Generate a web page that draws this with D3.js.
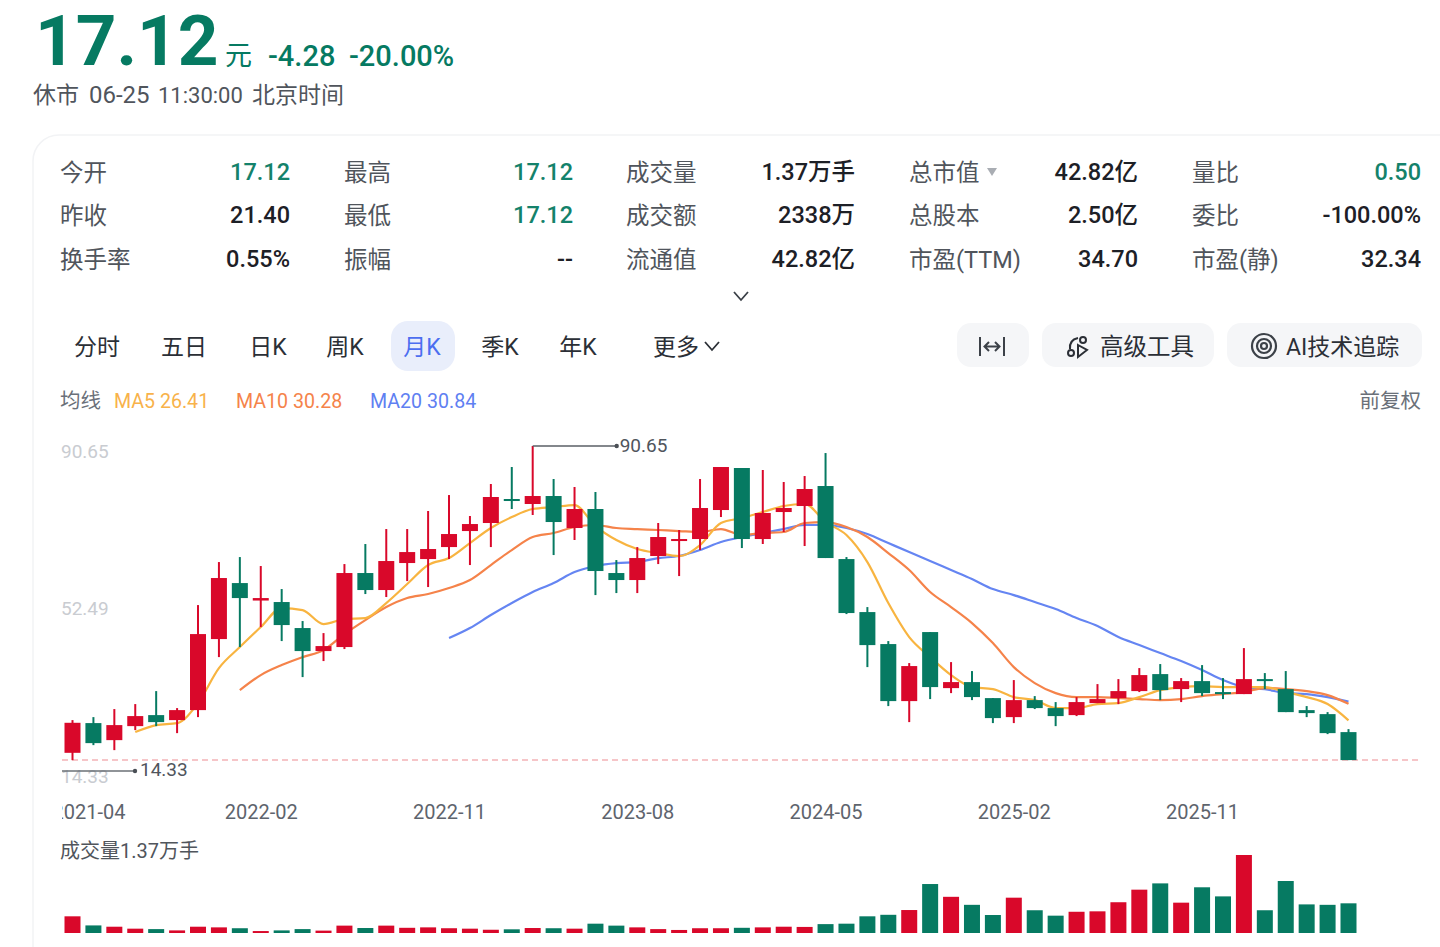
<!DOCTYPE html>
<html lang="zh-CN">
<head>
    <meta charset="UTF-8">
    <title>月K</title>
    <style>
        html, body { margin: 0; padding: 0; background: #fff; overflow: hidden; }
        svg { display: block; }
        text { font-family: Roboto, "Noto Sans CJK SC", sans-serif; }
    </style>
</head>
<body>
    <svg id="chart" width="1440" height="947"></svg>
    <script src="https://d3js.org/d3.v7.min.js"></script>
    <script>
        // monthly candles
        const opens = [18.82,25.78,21.79,25.07,27.65,26.48,28.82,45.45,58.56,54.47,54.12,48.03,42.64,43.58,60.91,56.93,63.25,64.18,66.99,70.74,72.62,78.24,77.07,78.94,71.45,75.9,60.91,59.27,64.89,68.4,68.87,75.66,85.5,68.87,75.19,76.6,81.28,64.18,51.77,44.28,30.93,47.09,33.97,35.38,31.63,27.18,31.16,29.29,27.65,30.46,31.63,33.27,37.25,33.74,35.61,33.04,32.57,36.08,33.74,28.82,27.88,23.67];
        const closes = [25.85,21.09,25.31,27.42,26.01,28.82,46.62,59.74,55.05,55.05,48.73,42.64,43.81,60.91,56.93,63.72,65.82,66.53,70.04,72.38,78.71,77.77,78.94,72.85,75.9,61.38,59.27,64.42,69.34,68.87,76.13,85.73,68.87,74.96,76.13,80.58,64.42,51.54,44.04,30.93,39.13,34.21,35.38,31.87,26.95,31.16,29.29,27.42,30.7,31.4,33.27,37.02,33.5,35.61,32.8,32.57,36.08,35.61,28.35,28.12,23.43,17.12];
        const highs = [26.48,27.18,29.06,30.23,33.27,29.29,53.41,63.48,64.65,62.55,57.16,49.67,46.85,63.01,67.7,71.21,71.21,75.43,79.17,74.26,81.75,85.73,90.65,82.92,81.05,79.88,63.95,66.99,72.62,70.98,82.92,85.73,85.5,85.03,82.22,83.62,89.0,64.65,52.94,44.98,39.83,47.09,40.06,37.96,31.63,35.85,32.1,30.7,31.87,34.91,36.08,38.66,39.6,36.32,39.36,36.32,43.34,37.49,37.96,29.76,28.35,24.37];
        const lows = [17.11,20.62,19.45,24.14,25.07,23.43,27.18,41.23,43.58,48.26,44.98,36.55,40.3,43.11,55.99,55.29,59.03,57.63,64.18,62.78,66.99,75.9,74.49,65.12,68.64,55.75,56.22,56.22,63.01,60.2,66.29,74.02,66.76,67.7,70.51,67.23,64.42,51.3,38.89,29.76,26.01,31.4,32.8,31.16,25.78,25.78,29.06,25.07,27.42,30.46,30.23,33.04,31.16,30.7,32.1,31.4,32.57,33.74,28.35,27.18,23.2,17.12];
        // volume in 万手
        const volumes = [0.77,0.35,0.29,0.20,0.18,0.12,0.29,0.26,0.22,0.09,0.12,0.18,0.11,0.34,0.23,0.34,0.24,0.26,0.22,0.20,0.15,0.17,0.23,0.22,0.20,0.43,0.34,0.26,0.18,0.14,0.22,0.22,0.24,0.26,0.29,0.28,0.41,0.43,0.77,0.84,1.06,2.26,1.67,1.30,0.83,1.63,1.05,0.80,0.98,1.00,1.42,2.00,2.29,1.40,2.11,1.69,3.60,1.05,2.40,1.32,1.30,1.37];
        // moving averages, null until the line starts
        const ma5 = [null,null,null,23.67,25.31,25.78,30.46,38.66,43.58,48.26,52.71,52.24,48.96,50.13,50.37,53.88,58.33,62.78,64.42,67.93,71.45,74.02,75.9,76.36,76.83,71.9,68.64,66.53,65.59,64.89,67.46,72.62,73.79,75.19,76.6,77.07,72.85,69.81,63.48,53.88,45.92,41.23,37.02,34.21,33.74,31.87,31.16,29.29,29.29,30.23,30.46,31.87,33.5,34.21,34.44,34.21,34.21,34.21,33.04,31.87,30.23,26.41];
        const ma10 = [null,null,null,null,null,null,null,null,33.5,37.02,39.36,41.23,42.87,46.62,49.9,52.94,55.05,55.99,57.39,59.27,62.78,66.29,69.34,70.27,71.68,72.15,71.45,71.21,70.98,70.74,70.51,71.21,69.81,70.27,70.51,72.62,72.85,71.68,69.34,65.59,61.61,56.46,52.94,49.2,44.51,38.89,35.15,32.8,31.87,31.87,31.63,31.4,31.16,31.4,32.1,32.57,33.04,33.97,33.74,33.27,32.33,30.28];
        const ma20 = [null,null,null,null,null,null,null,null,null,null,null,null,null,null,null,null,null,null,45.68,48.03,51.07,53.88,56.46,58.56,61.14,62.55,63.25,63.48,64.42,64.89,66.29,68.17,69.34,70.27,71.21,72.15,72.15,71.45,70.04,67.93,65.82,63.72,61.61,59.5,57.16,55.75,54.12,52.48,50.37,48.5,45.92,44.04,42.17,40.3,38.19,35.85,34.21,33.74,32.8,32.57,31.87,30.84];

        const dateLabels = ["2021-04", "2022-02", "2022-11", "2023-08", "2024-05", "2025-02", "2025-11"];
        const priceTicks = [90.65, 52.49, 14.33];
        const lastClose = 17.12;

        const statLabels = [
            ["今开", "最高", "成交量", "总市值", "量比"],
            ["昨收", "最低", "成交额", "总股本", "委比"],
            ["换手率", "振幅", "流通值", "市盈(TTM)", "市盈(静)"]
        ];
        const statValues = [
            ["17.12", "17.12", "1.37万手", "42.82亿", "0.50"],
            ["21.40", "17.12", "2338万", "2.50亿", "-100.00%"],
            ["0.55%", "--", "42.82亿", "34.70", "32.34"]
        ];
        const statGreen = [
            [true, true, false, false, true],
            [false, true, false, false, false],
            [false, false, false, false, false]
        ];
        const periodTabs = ["分时", "五日", "日K", "周K", "月K", "季K", "年K"];

        const RED = "#d9082a";
        const GREEN = "#067a62";
        const svg = d3.select("#chart");

        function label(parent, x, y, str, size, color, anchor, weight) {
            return parent.append("text")
                .attr("x", x)
                .attr("y", y)
                .attr("dominant-baseline", "central")
                .attr("text-anchor", anchor || "start")
                .attr("font-size", size)
                .attr("font-weight", weight || 400)
                .attr("fill", color)
                .text(str);
        }

        // header
        label(svg, 35, 40, "17.12", 71, GREEN, "start", 700);
        label(svg, 225, 56, "元", 27, GREEN);
        label(svg, 268, 56, "-4.28", 29, GREEN, "start", 500);
        label(svg, 349, 56, "-20.00%", 29, GREEN, "start", 500);
        label(svg, 33, 95, "休市", 23, "#50555c");
        label(svg, 89, 95, "06-25", 24, "#50555c");
        label(svg, 158, 95, "11:30:00", 22, "#50555c");
        label(svg, 252, 95, "北京时间", 23, "#50555c");

        // card
        svg.append("rect")
            .attr("x", 33).attr("y", 135)
            .attr("width", 1460).attr("height", 900)
            .attr("rx", 26)
            .attr("fill", "#fff")
            .attr("stroke", "#f2f3f5")
            .attr("stroke-width", 1.5);

        // stats grid
        const statCol = d3.scaleOrdinal().domain(d3.range(5)).range([60, 344, 626, 909, 1192]);
        const statRight = d3.scaleOrdinal().domain(d3.range(5)).range([290, 573, 855, 1138, 1421]);
        const statRow = d3.scaleOrdinal().domain(d3.range(3)).range([172, 215, 259]);
        statLabels.forEach((row, r) => row.forEach((t, c) => {
            label(svg, statCol(c), statRow(r) + 1, t, 23.5, "#50555c");
            label(svg, statRight(c), statRow(r), statValues[r][c], 23.5, statGreen[r][c] ? "#14826b" : "#1d2026", "end", 500);
        }));
        svg.append("path").attr("d", "M987,168 h10 l-5,8 z").attr("fill", "#a9adb3");
        svg.append("path").attr("d", "M734,292 l7,8 l7,-8").attr("fill", "none").attr("stroke", "#3a3f46").attr("stroke-width", 1.8);

        // period tabs
        const tabX = d3.scaleOrdinal().domain(periodTabs).range([97, 184, 268, 345, 422, 500, 578]);
        svg.append("rect").attr("x", 391).attr("y", 321).attr("width", 64).attr("height", 50).attr("rx", 17).attr("fill", "#e9eefb");
        periodTabs.forEach(t => {
            label(svg, tabX(t), 347, t, 23, t === "月K" ? "#4c6ef0" : "#2b2f36", "middle");
        });
        label(svg, 653, 347, "更多", 23, "#2b2f36");
        svg.append("path").attr("d", "M705,342 l7,8 l7,-8").attr("fill", "none").attr("stroke", "#2b2f36").attr("stroke-width", 1.8);

        // tool buttons
        [[957, 72], [1042, 172], [1227, 195]].forEach(b => {
            svg.append("rect").attr("x", b[0]).attr("y", 323).attr("width", b[1]).attr("height", 44).attr("rx", 14).attr("fill", "#f5f6f8");
        });
        svg.append("path")
            .attr("d", "M980,337 v19 M1004,337 v19 M985,346.500 h14 M989,342 l-4.500,4.500 l4.500,4.500 M995,342 l4.500,4.500 l-4.500,4.500")
            .attr("fill", "none").attr("stroke", "#3c4148").attr("stroke-width", 2);
        svg.append("path")
            .attr("d", "M1070,349 q-1,-9 8,-11 M1078,345 l9,5 l-9,7 z")
            .attr("fill", "none").attr("stroke", "#2b2f36").attr("stroke-width", 2);
        svg.append("circle").attr("cx", 1083).attr("cy", 340).attr("r", 3).attr("fill", "none").attr("stroke", "#2b2f36").attr("stroke-width", 2);
        svg.append("circle").attr("cx", 1071).attr("cy", 353).attr("r", 3).attr("fill", "none").attr("stroke", "#2b2f36").attr("stroke-width", 2);
        label(svg, 1100, 347, "高级工具", 23.5, "#2b2f36");
        [12, 7, 3].forEach(r => {
            svg.append("circle").attr("cx", 1264).attr("cy", 346).attr("r", r).attr("fill", "none").attr("stroke", "#3c4148").attr("stroke-width", 2.2);
        });
        label(svg, 1286, 347, "AI技术追踪", 23, "#2b2f36");

        // moving average legend
        label(svg, 60, 401, "均线", 20.5, "#6a7079");
        label(svg, 114, 401, "MA5 26.41", 19.6, "#f8b24a");
        label(svg, 236, 401, "MA10 30.28", 19.6, "#f5834a");
        label(svg, 370, 401, "MA20 30.84", 19.6, "#5f80f2");
        label(svg, 1421, 401, "前复权", 20.5, "#6a7079", "end");

        // scales
        const xScale = d3.scalePoint().domain(d3.range(opens.length)).range([72.5, 1348.5]);
        const yScale = d3.scaleLinear().domain([14.33, 90.65]).range([772, 446]);
        const volScale = d3.scaleLinear().domain([0, 3.6]).range([933, 855]);
        const bodyWidth = 16;

        // price tick labels
        svg.append("g").selectAll("text")
            .data(priceTicks)
            .join("text")
            .attr("x", 61)
            .attr("y", d => yScale(d) + (d === 90.65 ? 5 : d === 14.33 ? 4 : -1))
            .attr("dominant-baseline", "central")
            .attr("font-size", 19)
            .attr("fill", "#c9ccd1")
            .text(d => d);

        // last close dashed line
        svg.append("line")
            .attr("x1", 62).attr("x2", 1422)
            .attr("y1", yScale(lastClose)).attr("y2", yScale(lastClose))
            .attr("stroke", "#f3b3b6")
            .attr("stroke-width", 1.5)
            .attr("stroke-dasharray", "6,4");

        // moving averages under the candles
        const lineGen = d3.line()
            .defined(d => d !== null)
            .x((d, i) => xScale(i))
            .y(d => yScale(d))
            .curve(d3.curveMonotoneX);
        [[ma20, "#6585f2"], [ma10, "#f5834a"], [ma5, "#f8b440"]].forEach(s => {
            svg.append("path")
                .attr("d", lineGen(s[0]))
                .attr("fill", "none")
                .attr("stroke", s[1])
                .attr("stroke-width", 2.2);
        });

        // candles
        const candleColor = i => closes[i] > opens[i] ? RED : GREEN;
        const candles = svg.append("g").selectAll("g")
            .data(d3.range(opens.length))
            .join("g");
        candles.append("line")
            .attr("x1", i => xScale(i)).attr("x2", i => xScale(i))
            .attr("y1", i => yScale(highs[i]))
            .attr("y2", i => yScale(lows[i]))
            .attr("stroke", candleColor)
            .attr("stroke-width", 2);
        candles.append("rect")
            .attr("x", i => xScale(i) - bodyWidth / 2)
            .attr("width", bodyWidth)
            .attr("y", i => yScale(Math.max(opens[i], closes[i])))
            .attr("height", i => Math.max(2, Math.abs(yScale(opens[i]) - yScale(closes[i]))))
            .attr("fill", candleColor);

        // high / low markers
        const hiIdx = d3.maxIndex(highs);
        const hiY = yScale(highs[hiIdx]);
        svg.append("path")
            .attr("d", `M${xScale(hiIdx)},${hiY} H${xScale(hiIdx) + 84}`)
            .attr("fill", "none").attr("stroke", "#5a5f66").attr("stroke-width", 1.5);
        svg.append("circle").attr("cx", xScale(hiIdx) + 84).attr("cy", hiY).attr("r", 2.2).attr("fill", "#4a4f56");
        label(svg, xScale(hiIdx) + 87, hiY - 1, d3.max(highs), 19, "#50555c");

        const loY = yScale(priceTicks[2]) - 1;
        svg.append("path")
            .attr("d", `M62,${loY} H135`)
            .attr("fill", "none").attr("stroke", "#6b7076").attr("stroke-width", 1.5);
        svg.append("circle").attr("cx", 135).attr("cy", loY).attr("r", 2.2).attr("fill", "#4a4f56");
        label(svg, 140, loY - 2, priceTicks[2], 19, "#50555c");

        // date axis, first label is cut off by the plot edge
        svg.append("clipPath").attr("id", "axis-clip")
            .append("rect").attr("x", 62).attr("y", 790).attr("width", 1378).attr("height", 40);
        const dateAxis = d3.axisBottom(xScale)
            .tickValues(dateLabels.map((d, i) => i * 9))
            .tickFormat((d, i) => dateLabels[i])
            .tickSize(0);
        const axisG = svg.append("g")
            .attr("clip-path", "url(#axis-clip)")
            .append("g")
            .attr("transform", "translate(0,804)")
            .call(dateAxis);
        axisG.select(".domain").remove();
        axisG.selectAll("text")
            .attr("font-family", null)
            .attr("font-size", 20)
            .attr("fill", "#5e646d")
            .attr("y", 0)
            .attr("dy", "0.75em")
            .attr("dx", d => d === 0 ? 16 : 0);

        // volume
        label(svg, 60, 851, "成交量1.37万手", 20, "#50555c");
        svg.append("g").selectAll("rect")
            .data(volumes)
            .join("rect")
            .attr("x", (d, i) => xScale(i) - bodyWidth / 2)
            .attr("width", bodyWidth)
            .attr("y", d => volScale(d))
            .attr("height", d => volScale(0) - volScale(d))
            .attr("fill", (d, i) => candleColor(i));
    </script>
</body>
</html>
